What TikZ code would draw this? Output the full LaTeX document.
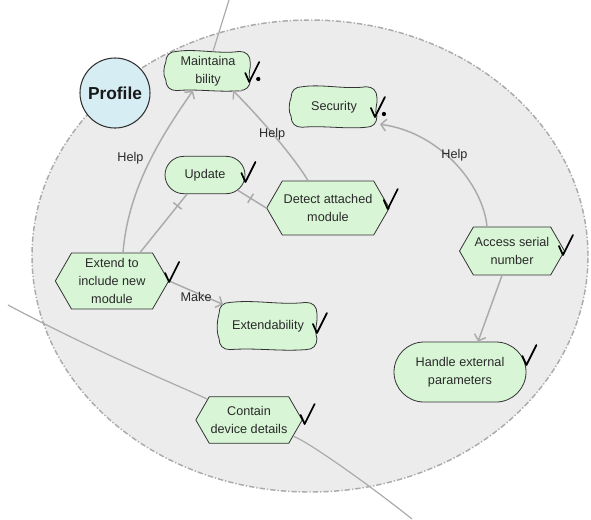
\documentclass[tikz,border=0pt]{standalone}
\usepackage{fontspec}
\setmainfont{Liberation Sans}
\usetikzlibrary{arrows.meta, calc, backgrounds, shapes.misc, shapes.symbols, decorations.markings}

\definecolor{goalfill}{HTML}{D8F5D6}
\definecolor{actorfill}{HTML}{D6EDF4}
\definecolor{bubblefill}{HTML}{ECECEC}
\definecolor{linkgray}{HTML}{ABABAB}
\definecolor{edgegray}{HTML}{333333}
\definecolor{textgray}{HTML}{2A2A2A}

% wavy outline for the soft goals
\newcommand{\softgoal}[1]{%
  \draw[goalline]
    ($(#1.north west)+(11,0)$)
      .. controls ($(#1.north)+(-12,-3)$) and ($(#1.north)+(12,3)$) .. ($(#1.north east)+(-11,0)$)
      .. controls ($(#1.north east)+(-4,0)$) and ($(#1.north east)+(0,4)$) .. ($(#1.north east)+(0,11)$)
      .. controls ($(#1.east)+(1,-3)$) and ($(#1.east)+(-3,3)$) .. ($(#1.south east)+(0,-11)$)
      .. controls ($(#1.south east)+(0,-4)$) and ($(#1.south east)+(-4,0)$) .. ($(#1.south east)+(-11,0)$)
      .. controls ($(#1.south)+(12,2)$) and ($(#1.south)+(-12,-2)$) .. ($(#1.south west)+(11,0)$)
      .. controls ($(#1.south west)+(4,0)$) and ($(#1.south west)+(0,-4)$) .. ($(#1.south west)+(0,-11)$)
      .. controls ($(#1.west)+(-3,5)$) and ($(#1.west)+(-2,-5)$) .. ($(#1.north west)+(0,11)$)
      .. controls ($(#1.north west)+(0,4)$) and ($(#1.north west)+(4,0)$) .. cycle;}

\begin{document}
\begin{tikzpicture}[x=0.75pt, y=-0.75pt,
  txt/.style={text=textgray, font=\fontsize{9.5}{13.5}\selectfont, align=center, inner sep=1pt},
  softnode/.style={txt, minimum width=63pt, minimum height=29pt},
  goalline/.style={draw=edgegray, fill=goalfill, line width=0.6pt},
  goal/.style={txt, rounded rectangle, draw=edgegray, fill=goalfill, line width=0.6pt,
    minimum width=62pt, minimum height=28pt},
  task/.style={txt, signal, signal to=west and east, signal pointer angle=120,
    draw=edgegray, fill=goalfill, line width=0.6pt, minimum width=85.5pt, minimum height=40.5pt},
  actor/.style={circle, draw=edgegray, fill=actorfill, line width=0.8pt, minimum size=52.5pt,
    inner sep=0pt, font=\fontsize{13}{15}\selectfont\bfseries, text=black!90},
  link/.style={draw=linkgray, line width=1.1pt},
  help/.style={link, -{Straight Barb[length=4pt, width=9pt]}},
  extline/.style={draw=linkgray, line width=0.9pt},
  lbl/.style={txt, text=textgray},
  barmark/.style={postaction={decorate, decoration={markings,
    mark=at position #1 with {\draw[linkgray, line width=1.1pt] (0,-4pt) -- (0,4pt);}}}},
  chk/.pic={\draw[black, line width=1.3pt, line cap=round, line join=round]
    (-4,-9) -- (0,0) -- (10,-20);},
  chkdot/.pic={\draw[black, line width=1.3pt, line cap=round, line join=round]
    (-4,-9) -- (0,0) -- (10,-20);
    \fill[black] (9,-3) circle (1.6pt);}]

  \useasboundingbox (0,0) rectangle (591,519);

  % actor boundary
  \begin{scope}[on background layer]
    \draw[draw=linkgray, fill=bubblefill, line width=1.1pt,
      dash pattern=on 4pt off 1.5pt on 1pt off 1.5pt]
      (310,256) ellipse [x radius=208.5pt, y radius=177pt];
  \end{scope}

  \node[actor] (profile) at (115,93) {Profile};

  \node[softnode] (maint) at (208,71) {Maintaina\\bility};
  \node[softnode, minimum width=64pt, minimum height=30pt] (secur) at (334,107) {Security};
  \node[softnode, minimum width=73pt, minimum height=35pt] (extbl) at (268,326) {Extendability};
  \node[goal] (update) at (205,175) {Update};
  \node[goal, minimum width=101pt, minimum height=45pt] (handle) at (460,372) {Handle external\\parameters};
  \node[task] (detect) at (328,208) {Detect attached\\module};
  \node[task, minimum width=85pt, minimum height=42pt] (extend) at (112,281) {Extend to\\include new\\module};
  \node[task, minimum width=75pt, minimum height=36pt] (access) at (512,251) {Access serial\\number};
  \node[task, minimum width=74pt, minimum height=35pt] (contain) at (249,420) {Contain\\device details};

  \begin{scope}[on background layer]
    \foreach \g in {maint, secur, extbl} {\softgoal{\g}}
  \end{scope}

  % links leaving the boundary
  \coordinate (topOut) at (229,0);
  \coordinate (leftOut) at (8,305);
  \coordinate (rightOut) at (412,519);
  \draw[extline] (topOut) -- ($(maint.north)+(5,0)$);
  \draw[extline] (leftOut) .. controls +(90,48) and +(-60,-30) .. (contain);
  \draw[extline] (contain) .. controls +(60,22) and +(-40,-32) .. (rightOut);

  % links inside
  \draw[help] ($(extend.north)+(11,0)$) .. controls +(5,-63) and +(-33,47) ..
    node[lbl, pos=0.5, shift={(-17,-7)}] {Help} ($(maint.south)+(-15,0)$);
  \draw[link, barmark=0.8] ($(extend.north)+(28,0)$) -- ($(update.south)+(-18,0)$);
  \draw[link, barmark=0.55] (detect.west) -- (update.-25);
  \draw[help] ($(detect.north)+(-20,0)$) .. controls +(-15,-25) and +(25,25) ..
    node[lbl, pos=0.5, shift={(-2,-1)}] {Help} ($(maint.south)+(25,0)$);
  \draw[help] ($(access.north)+(-25,0)$) .. controls +(-4,-42) and +(60,8) ..
    node[lbl, pos=0.5, shift={(0,-7)}] {Help} ($(secur.south east)+(3,-3)$);
  \draw[help] ($(access.south)+(-10,0)$) -- ($(handle.north)+(18,0)$);
  \draw[help] (extend.east) -- node[lbl, pos=0.5, shift={(0,4)}] {Make} ($(extbl.north west)+(4,2)$);

  % satisfaction marks
  \pic at ($(maint.east)+(-1,11)$) {chkdot};
  \pic at ($(secur.east)+(-2,10)$) {chkdot};
  \pic at ($(update.east)+(0,7)$) {chk};
  \pic at ($(detect.east)+(-2,1)$) {chk};
  \pic at ($(extend.east)+(0,1)$) {chk};
  \pic at ($(extbl.east)+(0,7)$) {chk};
  \pic at ($(access.east)+(-2,4)$) {chk};
  \pic at ($(handle.east)+(0,-7)$) {chk};
  \pic at ($(contain.east)+(2,4)$) {chk};
\end{tikzpicture}
\end{document}
